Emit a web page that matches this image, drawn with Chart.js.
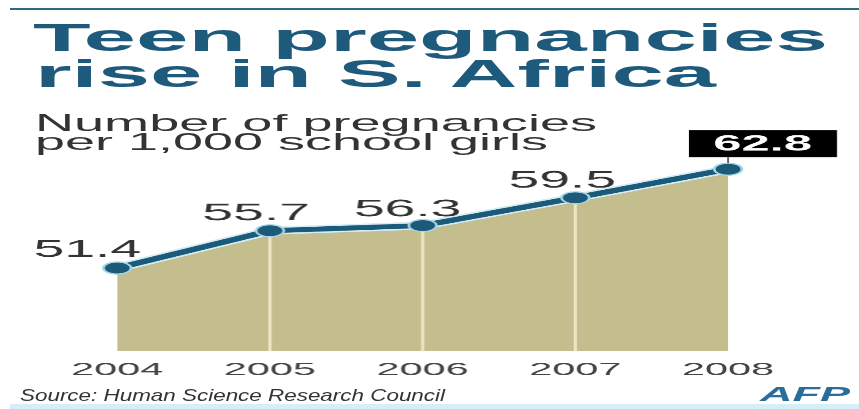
<!DOCTYPE html>
<html>
<head>
<meta charset="utf-8">
<script src="https://cdn.jsdelivr.net/npm/chart.js@4.4.0/dist/chart.umd.min.js"></script>
<style>
  html, body { margin: 0; padding: 0; background: #fff; }
  body { width: 859px; height: 409px; position: relative; overflow: hidden; font-family: "Liberation Sans", Arial, sans-serif; }
  .rule-top { position: absolute; left: 10px; right: 0; top: 8px; height: 2px; background: #2f6a80; }
  .rule-bottom { position: absolute; left: 10px; right: 0; top: 404px; height: 5px; background: #d6eef8; }
  .t { position: absolute; white-space: nowrap; line-height: 1; transform-origin: 0 0; z-index: 2; }
  .title { font-weight: bold; font-size: 39px; color: #1d5a7c; }
  .sub { font-size: 24px; color: #333; }
  .src { font-size: 17px; font-style: italic; color: #333; }
  .afp { font-size: 20px; font-weight: bold; font-style: italic; color: #2a6d9a; }
  /* the source graphic is stretched sideways, so the chart is drawn narrow and widened */
  #wrap { position: absolute; left: 0; top: 0; width: 373.5px; height: 409px; transform: scaleX(2.3); transform-origin: 0 0; z-index: 1; }
</style>
</head>
<body>
<div class="rule-top"></div>
<div class="t title" data-x="33" data-base="51" data-w="795">Teen pregnancies</div>
<div class="t title" data-x="35" data-base="87" data-w="681">rise in S. Africa</div>
<div class="t sub" data-x="35" data-base="131" data-w="562">Number of pregnancies</div>
<div class="t sub" data-x="35" data-base="150" data-w="513">per 1,000 school girls</div>
<div class="t src" data-x="20" data-base="401" data-w="425">Source: Human Science Research Council</div>
<div class="t afp" data-x="760" data-base="401" data-w="90">AFP</div>
<div class="rule-bottom"></div>
<div id="wrap"><canvas id="chart"></canvas></div>

<script>
const years = ['2004', '2005', '2006', '2007', '2008'];
const pregnancies = [51.4, 55.7, 56.3, 59.5, 62.8];
const yMin = 41.8;
const yMax = 65;

// where each value label sits relative to its point (chart units, before stretching)
const labelShift = [[-13, -18], [-6, -17], [-6.5, -16], [-5.7, -17]];

document.querySelectorAll('.t').forEach(el => {
    const fs = parseFloat(getComputedStyle(el).fontSize);
    el.style.left = el.dataset.x + 'px';
    el.style.top = (el.dataset.base - 0.8465 * fs) + 'px';
    const w = el.getBoundingClientRect().width;
    el.style.transform = 'scaleX(' + (el.dataset.w / w) + ')';
});

const dividers = {
    id: 'dividers',
    beforeDatasetsDraw(chart) {
        const meta = chart.getDatasetMeta(0);
        const bottom = chart.chartArea.bottom;
        const ctx = chart.ctx;
        ctx.save();
        ctx.strokeStyle = '#ece6c2';
        ctx.lineWidth = 1.4;
        meta.data.forEach((pt, i) => {
            if (i === 0 || i === meta.data.length - 1) return;
            ctx.beginPath();
            ctx.moveTo(pt.x, pt.y);
            ctx.lineTo(pt.x, bottom);
            ctx.stroke();
        });
        ctx.restore();
    }
};

const valueLabels = {
    id: 'valueLabels',
    afterDatasetsDraw(chart) {
        const meta = chart.getDatasetMeta(0);
        const ctx = chart.ctx;
        ctx.save();
        ctx.textAlign = 'center';
        ctx.textBaseline = 'middle';
        meta.data.forEach((pt, i) => {
            const text = pregnancies[i].toFixed(1);
            if (i < meta.data.length - 1) {
                ctx.font = '24px "Liberation Sans"';
                ctx.fillStyle = '#333';
                ctx.fillText(text, pt.x + labelShift[i][0], pt.y + labelShift[i][1]);
            } else {
                // latest year gets a black box
                const left = pt.x - 17;
                const top = pt.y - 39;
                ctx.strokeStyle = '#222';
                ctx.lineWidth = 0.6;
                ctx.beginPath();
                ctx.moveTo(pt.x, top + 27);
                ctx.lineTo(pt.x, pt.y - 6);
                ctx.stroke();
                ctx.fillStyle = '#000';
                ctx.fillRect(left, top, 64.3, 27);
                ctx.font = 'bold 22px "Liberation Sans"';
                ctx.fillStyle = '#fff';
                ctx.fillText(text, left + 32, top + 14.5);
            }
        });
        ctx.restore();
    }
};

new Chart(document.getElementById('chart'), {
    type: 'line',
    data: {
        labels: years,
        datasets: [
            {
                data: pregnancies,
                borderColor: '#1b5a79',
                borderWidth: 5,
                borderJoinStyle: 'round',
                pointRadius: 6,
                pointBackgroundColor: '#1b5a79',
                pointBorderColor: '#a9d3e4',
                pointBorderWidth: 1.2,
                fill: false,
                clip: false
            },
            {
                data: pregnancies,
                borderColor: '#d4ecf5',
                borderWidth: 8,
                borderJoinStyle: 'round',
                pointRadius: 0,
                fill: 'start',
                backgroundColor: '#c4bd8e',
                clip: false
            }
        ]
    },
    options: {
        animation: false,
        responsive: true,
        maintainAspectRatio: false,
        devicePixelRatio: 2.3,
        layout: { padding: { left: 50.9, right: 57.4, top: 150, bottom: 20.4 } },
        plugins: {
            legend: { display: false },
            tooltip: { enabled: false },
            filler: { drawTime: 'beforeDatasetsDraw' }
        },
        scales: {
            x: {
                grid: { display: false, drawTicks: false },
                border: { display: false },
                ticks: {
                    font: { family: '"Liberation Sans"', size: 18 },
                    color: '#444',
                    padding: 8,
                    maxRotation: 0,
                    autoSkip: false
                }
            },
            y: { display: false, min: yMin, max: yMax }
        }
    },
    plugins: [dividers, valueLabels]
});
</script>
</body>
</html>
